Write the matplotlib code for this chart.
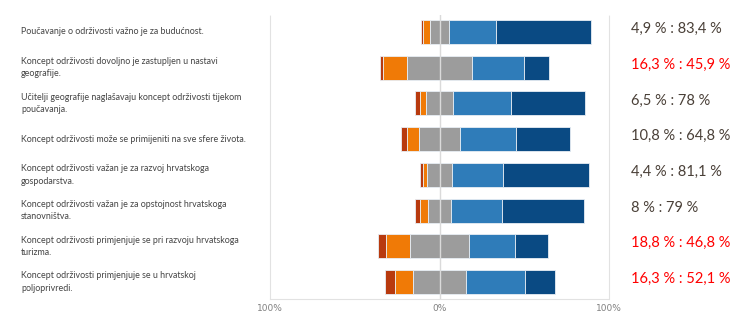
import matplotlib.pyplot as plt
import numpy as np

# statements (top to bottom)
statements = [
    "Poučavanje o održivosti važno je za budućnost.",
    "Koncept održivosti dovoljno je zastupljen u nastavi\ngeografije.",
    "Učitelji geografije naglašavaju koncept održivosti tijekom\npoučavanja.",
    "Koncept održivosti može se primijeniti na sve sfere života.",
    "Koncept održivosti važan je za razvoj hrvatskoga\ngospodarstva.",
    "Koncept održivosti važan je za opstojnost hrvatskoga\nstanovništva.",
    "Koncept održivosti primjenjuje se pri razvoju hrvatskoga\nturizma.",
    "Koncept održivosti primjenjuje se u hrvatskoj\npoljoprivredi.",
]

# shares in % per answer level
strongly_disagree = [1.0, 2.0, 2.8, 3.7, 2.0, 2.9, 4.5, 5.7]
disagree = [3.9, 14.3, 3.7, 7.1, 2.4, 5.1, 14.3, 10.6]
neutral = [11.7, 37.8, 15.5, 24.4, 14.5, 13.0, 34.4, 31.6]
agree = [27.2, 30.9, 34.2, 32.8, 30.1, 30.3, 27.6, 34.7]
strongly_agree = [56.2, 15.0, 43.8, 32.0, 51.0, 48.7, 19.2, 17.4]

summary = ["4,9 % : 83,4 %", "16,3 % : 45,9 %", "6,5 % : 78 %", "10,8 % : 64,8 %",
           "4,4 % : 81,1 %", "8 % : 79 %", "18,8 % : 46,8 %", "16,3 % : 52,1 %"]
summary_red = [False, True, False, False, False, False, True, True]

tick_pos = [-100, 0, 100]
tick_labels = ["100%", "0%", "100%"]

colors = ["#b83a0e", "#f07a06", "#9c9c9c", "#2f7cb9", "#0a4a83"]

sd = np.array(strongly_disagree)
d = np.array(disagree)
n = np.array(neutral)
a = np.array(agree)
sa = np.array(strongly_agree)

# diverging layout: neutral split around zero
starts = [-(sd + d + n / 2), -(d + n / 2), -n / 2, n / 2, n / 2 + a]
widths = [sd, d, n, a, sa]

fig = plt.figure(figsize=(7.42, 3.22), dpi=100)
ax = fig.add_axes([270 / 742, 23 / 322, 339 / 742, 284 / 322])

y = np.arange(len(statements))
for left, w, c in zip(starts, widths, colors):
    ax.barh(y, w, left=left, height=0.67, color=c, edgecolor="#e8eef4",
            linewidth=0.6, zorder=2)

ax.axvline(0, color="#dadada", linewidth=1.0, zorder=3)

ax.set_xlim(-100, 100)
ax.set_ylim(len(statements) - 0.524, -0.476)
ax.set_yticks([])
ax.set_xticks(tick_pos)
ax.set_xticklabels(tick_labels, fontsize=6.5, color="#808080")
ax.tick_params(axis="x", length=0, pad=3.5)

ax.spines["top"].set_visible(False)
for side in ["left", "right", "bottom"]:
    ax.spines[side].set_color("#e2e2e2")
    ax.spines[side].set_linestyle((0, (1, 1)))
    ax.spines[side].set_linewidth(0.8)

# statement labels on the left, values on the right
for i, (txt, note, red) in enumerate(zip(statements, summary, summary_red)):
    yy = ax.transData.transform((0, i))[1]
    yf = fig.transFigure.inverted().transform((0, yy))[1]
    fig.text(21 / 742, yf, txt, ha="left", va="center", fontsize=6.4,
             family="Lato", color="#444444", linespacing=1.5)
    fig.text(631 / 742, yf + 3 / 322, note, ha="left", va="center",
             fontsize=10.5, family="Lato",
             color="#ff0000" if red else "#4a4038")

fig.savefig("out.png", dpi=100, facecolor="white")
